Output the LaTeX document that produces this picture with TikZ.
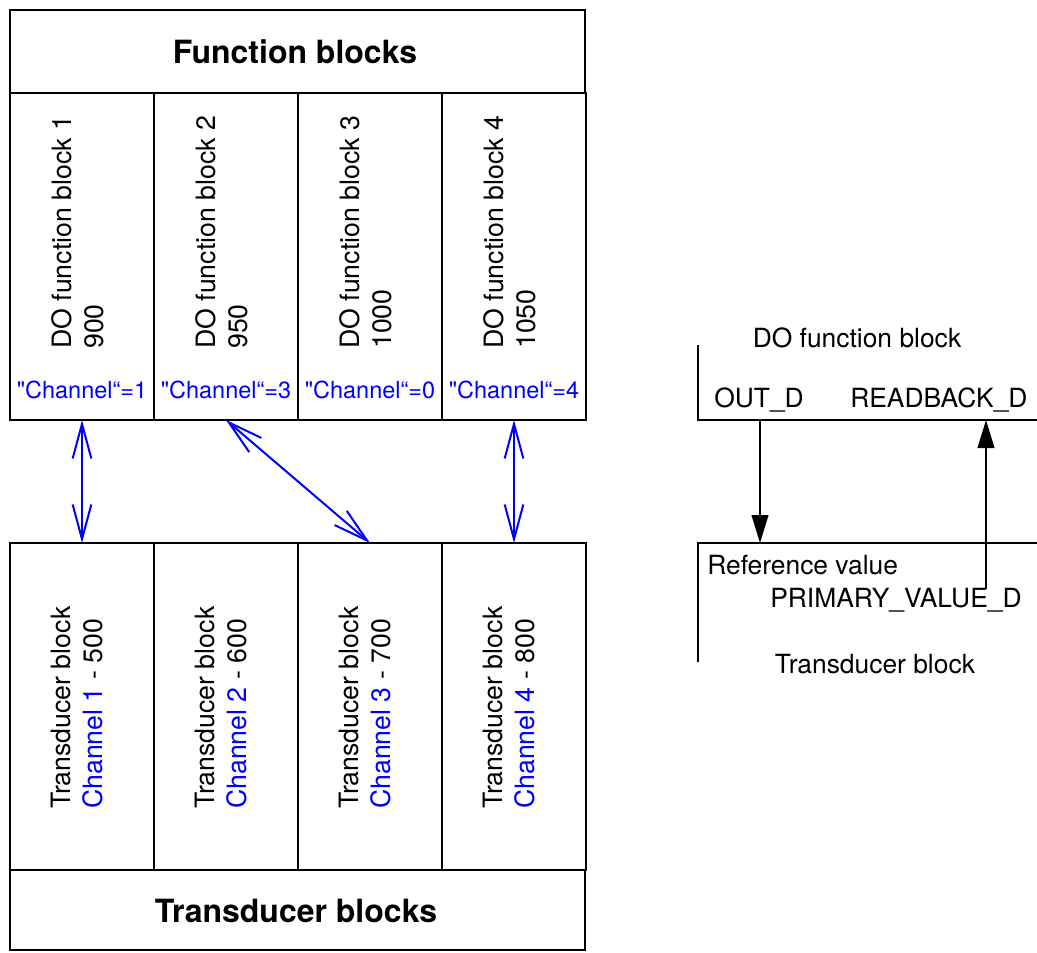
\documentclass[tikz,border=0pt]{standalone}
\usepackage{fontspec}
\setmainfont{TeX Gyre Heros}[Ligatures=TeXOff]
\usetikzlibrary{arrows.meta}
\definecolor{chblue}{RGB}{0,0,255}
\begin{document}
\begin{tikzpicture}[x=0.75pt,y=-0.75pt,
  cell/.style={draw, line width=1.5pt, inner sep=0pt, outer sep=0pt, anchor=north west,
    minimum width=108pt, minimum height=245.25pt},
  band/.style={draw, line width=1.5pt, inner sep=0pt, outer sep=0pt, anchor=north west,
    minimum width=431.25pt},
  lbl/.style={font=\fontsize{20}{24}\selectfont, inner sep=0pt, align=left},
  rlbl/.style={lbl, rotate=90, anchor=north west},
  chl/.style={font=\fontsize{17.6}{20}\selectfont, text=chblue, inner sep=0pt, anchor=base},
  head/.style={font=\fontsize{24}{28}\selectfont\bfseries, inner sep=0pt},
  rtxt/.style={font=\fontsize{19.8}{24}\selectfont, inner sep=0pt, anchor=base west},
  line/.style={line width=1.5pt},
  barrow/.style={draw=chblue, line width=1.5pt,
    {Straight Barb[length=26pt,width=14pt,line width=1.5pt]}-{Straight Barb[length=26pt,width=14pt,line width=1.5pt]}},
  karrow/.style={line width=1.5pt, -{Triangle[length=21pt,width=12.5pt]}},
]
\useasboundingbox (0,0) rectangle (1037,952);

% ---- Function blocks ----
\node[band, minimum height=62.25pt] (fbh) at (10,10) {};
\node[head] (fbht) at (295,51.5) {Function blocks};
\node[cell] (fb1) at (10,93) {};
\node[cell] (fb2) at (154,93) {};
\node[cell] (fb3) at (298,93) {};
\node[cell] (fb4) at (442,93) {};
\node[rlbl] (fb1t) at (51,349) {DO function block 1\\900};
\node[rlbl] (fb2t) at (195,349) {DO function block 2\\950};
\node[rlbl] (fb3t) at (339,349) {DO function block 3\\1000};
\node[rlbl] (fb4t) at (483,349) {DO function block 4\\1050};
\node[chl] (ch1) at (82,398) {"Channel“=1};
\node[chl] (ch2) at (226,398) {"Channel“=3};
\node[chl] (ch3) at (370,398) {"Channel“=0};
\node[chl] (ch4) at (514,398) {"Channel“=4};

% ---- Transducer blocks ----
\node[cell] (tb1) at (10,543) {};
\node[cell] (tb2) at (154,543) {};
\node[cell] (tb3) at (298,543) {};
\node[cell] (tb4) at (442,543) {};
\node[band, minimum height=60pt] (tbf) at (10,870) {};
\node[head] (tbft) at (296,911) {Transducer blocks};
\node[rlbl] (tb1t) at (51,809) {Transducer block\\\textcolor{chblue}{Channel 1} - 500};
\node[rlbl] (tb2t) at (195,809) {Transducer block\\\textcolor{chblue}{Channel 2} - 600};
\node[rlbl] (tb3t) at (339,809) {Transducer block\\\textcolor{chblue}{Channel 3} - 700};
\node[rlbl] (tb4t) at (483,809) {Transducer block\\\textcolor{chblue}{Channel 4} - 800};

% ---- assignments ----
\draw[barrow] (fb1.south) -- (tb1.north);
\draw[barrow] (fb2.south) -- (tb3.north);
\draw[barrow] (fb4.south) -- (tb4.north);

% ---- right legend ----
\draw[line] (698,345) -- (698,420) -- (1037,420);
\draw[line] (1037,543) -- (698,543) -- (698,662);
\node[rtxt, anchor=base] (dofb) at (857,347) {DO function block};
\node[rtxt] (outd) at (714,407) {OUT\_D};
\node[rtxt] (rbd) at (850,407) {READBACK\_D};
\node[rtxt] (refv) at (707,574) {Reference value};
\node[rtxt] (pvd) at (770,607) {PRIMARY\_VALUE\_D};
\node[rtxt, anchor=base] (tbl) at (875,673) {Transducer block};
\coordinate (outsrc) at (760,420);
\coordinate (outdst) at (760,543);
\coordinate (pvsrc) at (986,589);
\coordinate (rbdst) at (986,420);
\draw[karrow] (outsrc) -- (outdst);
\draw[karrow] (pvsrc) -- (rbdst);
\end{tikzpicture}
\end{document}
